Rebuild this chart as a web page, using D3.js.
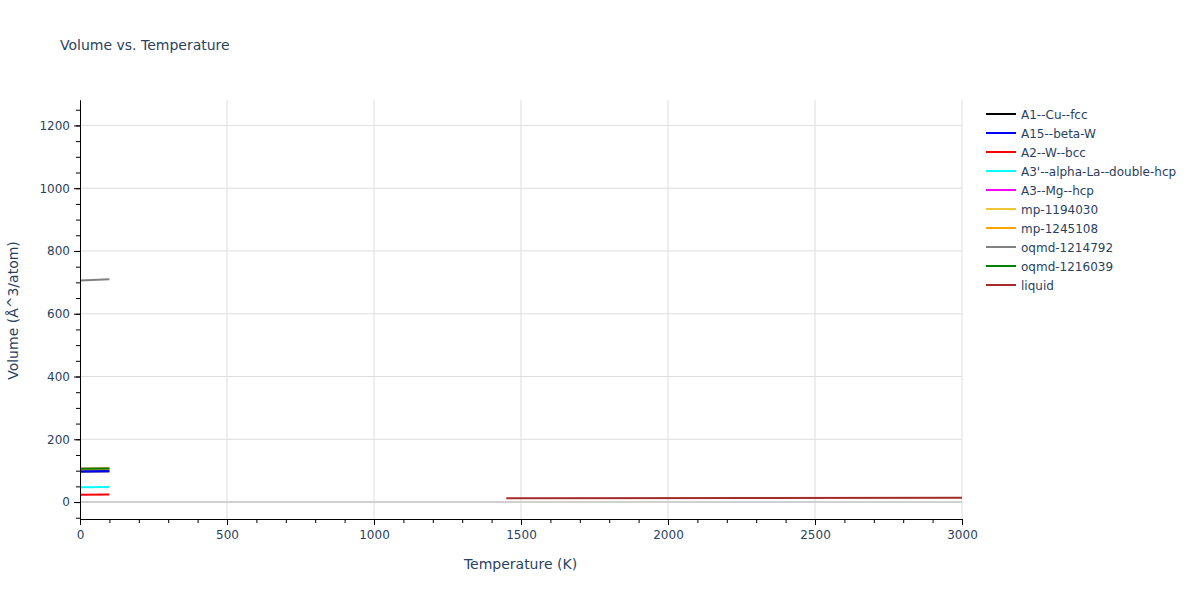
<!DOCTYPE html>
<html><head><meta charset="utf-8">
<script src="https://cdn.jsdelivr.net/npm/d3@7"></script>
<style>body{margin:0;background:#fff;} svg{font-family:"DejaVu Sans",Verdana,sans-serif;}</style>
</head><body><div id="chart"></div>
<script>
const seriesNames = ["A1--Cu--fcc","A15--beta-W","A2--W--bcc","A3'--alpha-La--double-hcp","A3--Mg--hcp","mp-1194030","mp-1245108","oqmd-1214792","oqmd-1216039","liquid"];
const seriesColors = ["black","blue","red","cyan","magenta","#f0c437","orange","grey","green","brown"];
const seriesTemps = [
  [0,100],[0,100],[0,100],[0,100],[0,100],[0,100],[0,100],[0,100],[0,100],[1450,3000]
];
const seriesVolumes = [
  [97,98],[97,98],[23,24],[47,48],[106,107],[106,107],[106,107],[706,710],[106,107],[11.8,14]
];
const xTicks = [0,500,1000,1500,2000,2500,3000];
const yTicks = [0,200,400,600,800,1000,1200];

const W=1200,H=600;
const m={l:80,r:238,t:100,b:81};
const svg=d3.select("#chart").append("svg").attr("width",W).attr("height",H);
const x=d3.scaleLinear().domain([0,3000]).range([m.l,W-m.r]);
const y=d3.scaleLinear().domain([-54,1281]).range([H-m.b,m.t]);
const txt="#2a3f5f";
const fmt=d3.format("d");

// grid
svg.append("g").selectAll("line").data(xTicks.filter(d=>d>0)).join("line")
 .attr("x1",d=>x(d)).attr("x2",d=>x(d)).attr("y1",m.t).attr("y2",H-m.b)
 .attr("stroke","#dedede").attr("stroke-width",1);
svg.append("g").selectAll("line").data(yTicks.filter(d=>d!==0)).join("line")
 .attr("x1",m.l).attr("x2",W-m.r).attr("y1",d=>y(d)).attr("y2",d=>y(d))
 .attr("stroke","#dedede").attr("stroke-width",1);
// zero line
svg.append("line").attr("x1",m.l).attr("x2",W-m.r).attr("y1",y(0)).attr("y2",y(0))
 .attr("stroke","#d0d0d0").attr("stroke-width",2);

// lines
const line=d3.line().x(d=>x(d[0])).y(d=>y(d[1]));
const plot=svg.append("g");
seriesNames.forEach((n,i)=>{
  const pts=seriesTemps[i].map((t,j)=>[t,seriesVolumes[i][j]]);
  plot.append("path").datum(pts).attr("d",line).attr("fill","none")
   .attr("stroke",seriesColors[i]).attr("stroke-width",2);
});

// axes
const xMinor=d3.range(0,3001,100);
const xAxis=svg.append("g").attr("transform",`translate(0,${H-m.b})`);
xAxis.call(d3.axisBottom(x).tickValues(xMinor).tickFormat("").tickSize(4).tickSizeOuter(0));
xAxis.append("g").call(d3.axisBottom(x).tickValues(xTicks).tickFormat(fmt).tickSize(6).tickSizeOuter(0).tickPadding(5));
xAxis.selectAll("path").attr("stroke","#000");
xAxis.selectAll("line").attr("stroke","#000");
xAxis.selectAll("text").attr("fill",txt).attr("font-size",12).attr("font-family","'DejaVu Sans',Verdana,sans-serif");

const yMinor=d3.range(-50,1251,50);
const yAxis=svg.append("g").attr("transform",`translate(${m.l},0)`);
yAxis.call(d3.axisLeft(y).tickValues(yMinor).tickFormat("").tickSize(4).tickSizeOuter(0));
yAxis.append("g").call(d3.axisLeft(y).tickValues(yTicks).tickFormat(fmt).tickSize(6).tickSizeOuter(0).tickPadding(4));
yAxis.selectAll("path").attr("stroke","#000");
yAxis.selectAll("line").attr("stroke","#000");
yAxis.selectAll("text").attr("fill",txt).attr("font-size",12).attr("font-family","'DejaVu Sans',Verdana,sans-serif");

// titles
svg.append("text").attr("x",60).attr("y",50).attr("fill",txt).attr("font-size",14).text("Volume vs. Temperature");
svg.append("text").attr("x",520.5).attr("y",569).attr("text-anchor","middle").attr("fill",txt).attr("font-size",14).text("Temperature (K)");
svg.append("text").attr("transform",`translate(17.5,310.5) rotate(-90)`).attr("text-anchor","middle").attr("fill",txt).attr("font-size",14).text("Volume (Å^3/atom)");

// legend
const lg=svg.append("g").attr("transform","translate(986,114)");
seriesNames.forEach((n,i)=>{
  const g=lg.append("g").attr("transform",`translate(0,${i*19})`);
  g.append("line").attr("x1",0).attr("x2",30).attr("y1",0).attr("y2",0).attr("stroke",seriesColors[i]).attr("stroke-width",2);
  g.append("text").attr("x",35).attr("y",4.5).attr("fill",txt).attr("font-size",12).text(n);
});
</script></body></html>
